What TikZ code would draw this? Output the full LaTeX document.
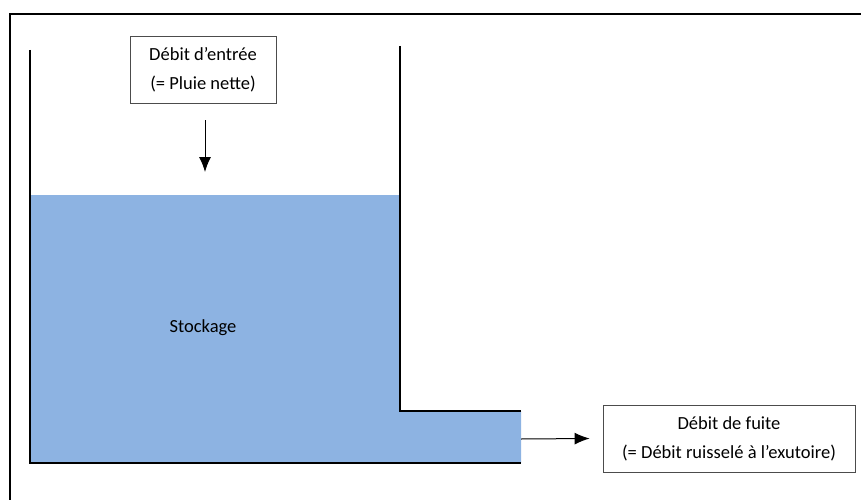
\documentclass[tikz,border=0pt]{standalone}
\usepackage{fontspec}
\setmainfont{Carlito}
\usepackage{tikz}
\usetikzlibrary{arrows.meta}

\begin{document}
\begin{tikzpicture}[x=1pt,y=-1pt,font=\fontsize{18.5}{22}\selectfont,
wall/.style={line width=2pt},
water/.style={fill=eau,draw=none},
txtbox/.style={draw=black!70,line width=0.8pt,fill=white,align=center,inner sep=0pt,minimum height=67pt},
flow/.style={line width=1pt,-{Latex[length=15pt,width=12pt]}}]
\definecolor{eau}{HTML}{8DB3E2}
\useasboundingbox (0,0) rectangle (861,500);
% cadre
\draw[line width=2.5pt] (10,500) -- (10,14) -- (861,14);
% eau
\fill[eau] (30,195) -- (400,195) -- (400,411) -- (521,411) -- (521,463) -- (30,463) -- cycle;
% parois
\draw[wall] (30,50) -- (30,463) -- (521,463);
\draw[wall] (400,46) -- (400,411) -- (521,411);
\node (stockage) at (203,328) {Stockage};
\node[txtbox,minimum width=146pt] (entree) at (203,69.5) {D\'ebit d’entr\'ee\\[7pt](= Pluie nette)};
\node[txtbox,minimum width=252pt] (fuite) at (729,438.5) {D\'ebit de fuite\\[7pt](= D\'ebit ruissel\'e \`a l’exutoire)};
\coordinate (pluie) at (205,172);
\coordinate (sortie) at (521,439);
\draw[flow] ([xshift=2pt,yshift=-17pt]entree.south) -- (pluie);
\draw[flow] (sortie) -- ([xshift=-13pt]fuite.west);
\end{tikzpicture}
\end{document}
